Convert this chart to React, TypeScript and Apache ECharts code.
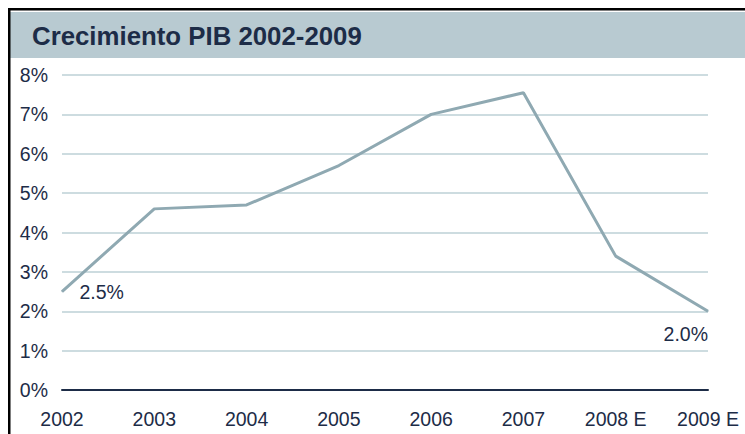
import React, { useEffect, useRef } from "react";
import * as echarts from "echarts";

const categories = ["2002", "2003", "2004", "2005", "2006", "2007", "2008 E", "2009 E"];
const growth = [2.5, 4.6, 4.7, 5.7, 7.0, 7.55, 3.4, 2.0];
const labelledIndexes = [0, 7];
const titleText = "Crecimiento PIB 2002-2009";

const NAVY = "#1d2c47";
const LINE = "#8fa9b2";
const GRID = "#bdd0d6";
const BAR = "#b8cad1";
const FONT = "Liberation Sans, Arial, sans-serif";

export default function App() {
  const ref = useRef<HTMLDivElement>(null);
  useEffect(() => {
    if (!ref.current) return;
    const chart = echarts.init(ref.current, null, { renderer: "svg" });
    const data = growth.map((v, i) => {
      if (!labelledIndexes.includes(i)) return v;
      const last = i === growth.length - 1;
      return {
        value: v,
        label: last
          ? { show: true, position: "bottom", align: "right", distance: 12 }
          : { show: true, position: "right", distance: 17 },
      };
    });
    chart.setOption({
      animation: false,
      backgroundColor: "#ffffff",
      grid: { left: 62, right: 37, top: 75, bottom: 44, containLabel: false },
      graphic: [
        { type: "rect", shape: { x: 10, y: 12, width: 740, height: 46 }, style: { fill: BAR } },
        { type: "rect", shape: { x: 8, y: 8, width: 740, height: 2.5 }, style: { fill: "#000" } },
        { type: "rect", shape: { x: 8, y: 8, width: 2.5, height: 430 }, style: { fill: "#000" } },
        {
          type: "text",
          x: 32,
          y: 36,
          style: {
            text: titleText,
            fill: NAVY,
            font: `bold 25.8px ${FONT}`,
            verticalAlign: "middle",
          },
        },
      ],
      xAxis: {
        type: "category",
        data: categories,
        boundaryGap: false,
        axisLine: { lineStyle: { color: NAVY, width: 2 } },
        axisTick: { show: false },
        axisLabel: { color: NAVY, fontSize: 19.5, fontFamily: FONT, margin: 19, interval: 0 },
        splitLine: { show: false },
      },
      yAxis: {
        type: "value",
        min: 0,
        max: 8,
        interval: 1,
        axisLine: { show: false },
        axisTick: { show: false },
        axisLabel: { color: NAVY, fontSize: 19.5, fontFamily: FONT, margin: 14, formatter: "{value}%" },
        splitLine: { lineStyle: { color: GRID, width: 1.5 } },
      },
      series: [
        {
          type: "line",
          data,
          symbol: "circle",
          symbolSize: 1,
          showSymbol: true,
          itemStyle: { color: LINE },
          lineStyle: { color: LINE, width: 3 },
          label: {
            show: false,
            color: NAVY,
            fontSize: 19.5,
            fontFamily: FONT,
            formatter: (p: any) => `${Number(p.value).toFixed(1)}%`,
          },
        },
      ],
    });
    return () => chart.dispose();
  }, []);
  return (
    <div
      ref={ref}
      style={{ position: "fixed", left: 0, top: 0, width: 745, height: 434 }}
    />
  );
}
